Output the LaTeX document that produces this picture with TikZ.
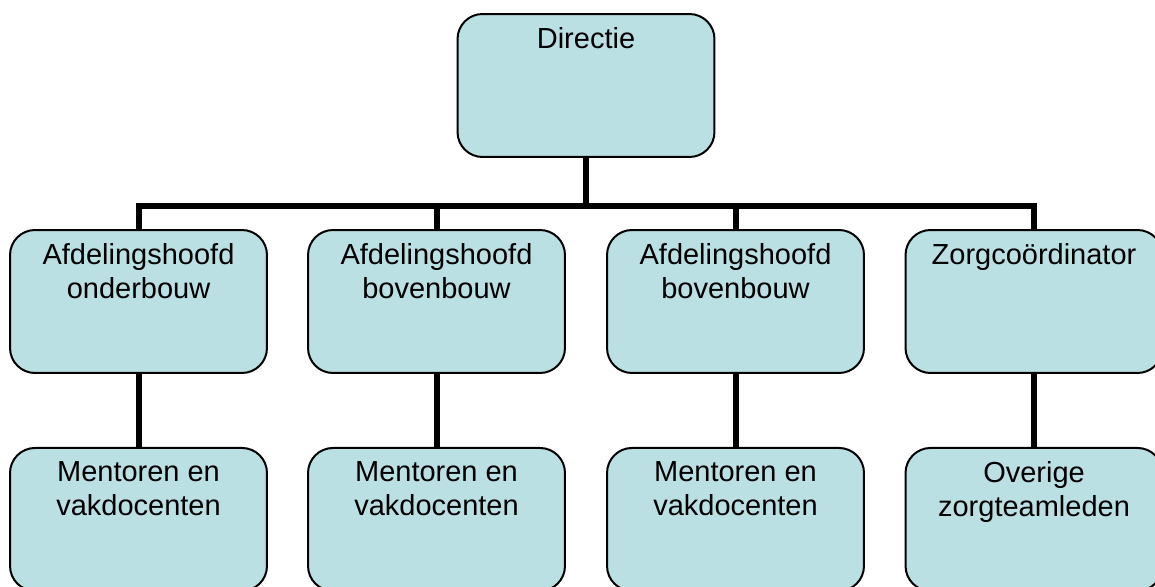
\documentclass[tikz,border=0pt]{standalone}
\usepackage{fontspec}
\setmainfont{Liberation Sans}
\usepackage{xcolor}
\definecolor{orgFill}{HTML}{BBE0E3}
\definecolor{orgLine}{HTML}{000000}
\usepackage{tikz}
\usetikzlibrary{positioning}
\tikzset{
    orgbox/.style={
        draw=orgLine,
        fill=orgFill,
        rectangle,
        rounded corners=0.5cm,
        line width=0.04cm,
        minimum width=5.14cm,
        minimum height=2.86cm,
        inner sep=0pt
    },
    boxtext/.style={
        anchor=north,
        inner sep=0pt,
        yshift=-0.28cm,
        align=center,
        font=\fontsize{16.5}{19.4}\selectfont
    },
    link/.style={
        line width=0.12cm,
        color=orgLine
    }
}

\begin{document}
\begin{tikzpicture}[x=0.02cm, y=-0.02cm]
    \useasboundingbox (0,0) rectangle (1155,587);
    \clip (0,0) rectangle (1155,587);

    % Top level - Directie
    \node[orgbox, label={[boxtext]north:Directie}] (dir) at (586,85.5) {};

    % Second level - Afdelingshoofden en zorg
    \node[orgbox, label={[boxtext]north:Afdelingshoofd\\onderbouw}] (afd1) at (138.5,301.5) {};
    \node[orgbox, label={[boxtext]north:Afdelingshoofd\\bovenbouw}] (afd2) at (436.5,301.5) {};
    \node[orgbox, label={[boxtext]north:Afdelingshoofd\\bovenbouw}] (afd3) at (735.5,301.5) {};
    \node[orgbox, label={[boxtext]north:Zorgco\"ordinator}] (zorg) at (1034,301.5) {};

    % Third level - Teams
    \node[orgbox, below=1.46cm of afd1, label={[boxtext]north:Mentoren en\\vakdocenten}] (team1) {};
    \node[orgbox, below=1.46cm of afd2, label={[boxtext]north:Mentoren en\\vakdocenten}] (team2) {};
    \node[orgbox, below=1.46cm of afd3, label={[boxtext]north:Mentoren en\\vakdocenten}] (team3) {};
    \node[orgbox, below=1.46cm of zorg, label={[boxtext]north:Overige\\zorgteamleden}] (zteam) {};

    % Connections
    \coordinate (bar) at (586,206);
    \draw[link] (dir.south) -- (bar);
    \draw[link] (bar) -| (afd1.north);
    \draw[link] (bar) -| (afd2.north);
    \draw[link] (bar) -| (afd3.north);
    \draw[link] (bar) -| (zorg.north);
    \draw[link] (afd1) -- (team1);
    \draw[link] (afd2) -- (team2);
    \draw[link] (afd3) -- (team3);
    \draw[link] (zorg) -- (zteam);
\end{tikzpicture}
\end{document}
